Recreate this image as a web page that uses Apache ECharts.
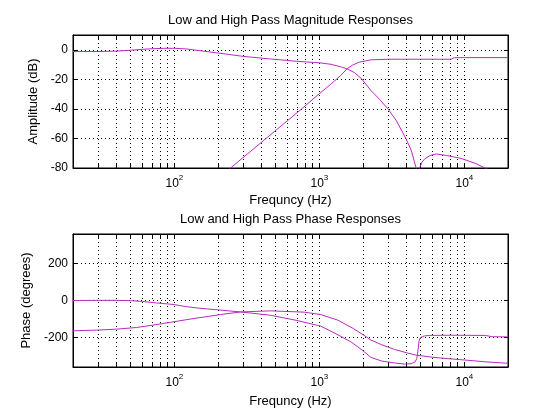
<!DOCTYPE html>
<html>
<head>
<meta charset="utf-8">
<script src="https://cdn.jsdelivr.net/npm/echarts@6/dist/echarts.min.js"></script>
<style>
  html, body { margin: 0; padding: 0; background: #fff; }
  #main { width: 560px; height: 420px; }
</style>
</head>
<body>
<div id="main"></div>
<script>
// frequency grid (Hz) and labels
var gridFreqs = [20, 30, 40, 50, 60, 70, 80, 90, 100, 200, 300, 400, 500, 600, 700, 800, 900,
    1000, 2000, 3000, 4000, 5000, 6000, 7000, 8000, 9000, 10000, 20000];
var decadeFreqs = [100, 1000, 10000];
var ampTicks = [-80, -60, -40, -20, 0];
var phaseTicks = [-200, 0, 200];

// low pass magnitude (dB)
var lpMagFreq = [20, 30, 40, 50, 60, 70, 85, 100, 120, 150, 200, 300, 460, 700, 1000, 1200, 1400, 1550,
    1750, 1950, 2270, 2600, 2970, 3400, 3960, 4300, 4650, 4780, 4910, 5100, 5310, 5800, 6400, 7500,
    9500, 12000, 14200, 20000];
var lpMagDb = [-1.2, -1.2, -0.9, -0.3, 0.3, 0.7, 1.0, 1.0, 0.6, -0.6, -2.2, -4.5, -6.2, -7.8, -8.8, -9.8, -11.5, -12.9,
    -15.5, -19.5, -27.6, -33.5, -40, -48, -60.3, -68, -80, -105, -80, -76, -74, -71.5, -70.5, -71.5,
    -73.5, -77, -80.5, -86];

// high pass magnitude (dB)
var hpMagFreq = [200, 244, 766, 997, 1200, 1400, 1550, 1700, 1880, 2270, 3000, 5000, 8100,
    8500, 10000, 20000];
var hpMagDb = [-87, -80, -39.5, -29.8, -23.3, -17.5, -12.9, -10.3, -8.4, -6.8, -6.4, -6.4, -6.4,
    -5.4, -5.3, -5.3];

// low pass phase (degrees)
var lpPhFreq = [20, 30, 40, 50, 60, 75, 100, 120, 150, 208, 286, 461, 700, 1023, 1300, 1652, 2000, 2270,
    2700, 3300, 3860, 4300, 4550, 4700, 4800, 4880, 5000, 5300, 5750, 8000, 14000, 15500, 20000];
var lpPhDeg = [0, 1, 1, -1, -5, -13, -22, -33, -42, -52, -62, -80, -108, -139, -180, -224, -272, -308,
    -328, -338, -344, -342, -334, -315, -265, -215, -200, -192, -189, -188, -189, -196, -197];

// high pass phase (degrees)
var hpPhFreq = [20, 30, 40, 55, 70, 94, 130, 208, 286, 461, 785, 1023, 1337, 1700, 2000, 2270, 2700, 3300,
    4000, 4660, 6000, 8000, 10000, 14000, 20000];
var hpPhDeg = [-164, -160, -155, -146, -134, -118, -100, -76, -62, -56, -63, -76, -106, -150, -185, -214, -240, -265,
    -283, -296, -307, -316, -322, -332, -340];

function pairs(xs, ys) {
    return xs.map(function (x, i) { return [x, ys[i]]; });
}

var FONT = 'Liberation Sans, Arial, sans-serif';
var LINE = '#b82cc0';

function powLabel(v) {
    var e = Math.round(Math.log10(v));
    return '{b|10}{s|' + e + '}';
}

function xAxisFor(gridIndex, pos, name, gap) {
    var bottom = pos === 'bottom';
    return {
        type: 'log',
        logBase: 10,
        gridIndex: gridIndex,
        position: pos,
        min: 20,
        max: 20000,
        name: name,
        nameLocation: 'middle',
        nameGap: gap,
        nameTextStyle: { color: '#000', fontFamily: FONT, fontSize: 13 },
        axisLine: { show: true, onZero: false, lineStyle: { color: '#000', width: 1 } },
        axisTick: { show: true, inside: true, length: 4, customValues: gridFreqs, lineStyle: { color: '#000' } },
        axisLabel: {
            show: bottom,
            customValues: decadeFreqs,
            margin: 6,
            formatter: powLabel,
            rich: {
                b: { fontSize: 12, fontFamily: FONT, color: '#000', verticalAlign: 'bottom' },
                s: { fontSize: 8, fontFamily: FONT, color: '#000', padding: [0, 0, 8, 0], verticalAlign: 'bottom' }
            }
        },
        splitLine: {
            show: bottom,
            lineStyle: { color: '#000', width: 1, type: [1, 3] }
        }
    };
}

function yAxisFor(gridIndex, pos, min, max, ticks, name, gap) {
    var left = pos === 'left';
    return {
        type: 'value',
        gridIndex: gridIndex,
        position: pos,
        min: min,
        max: max,
        name: name,
        nameLocation: 'middle',
        nameGap: gap,
        nameRotate: 90,
        nameTextStyle: { color: '#000', fontFamily: FONT, fontSize: 13 },
        axisLine: { show: true, onZero: false, lineStyle: { color: '#000', width: 1 } },
        axisTick: { show: true, inside: true, length: 4, customValues: ticks, lineStyle: { color: '#000' } },
        axisLabel: {
            show: left,
            customValues: ticks,
            margin: 5,
            color: '#000',
            fontFamily: FONT,
            fontSize: 12
        },
        splitLine: {
            show: left,
            lineStyle: { color: '#000', width: 1, type: [1, 3] }
        }
    };
}

function curve(xi, yi, data) {
    return {
        type: 'line',
        xAxisIndex: xi,
        yAxisIndex: yi,
        data: data,
        showSymbol: false,
        symbol: 'none',
        clip: true,
        smooth: false,
        lineStyle: { color: LINE, width: 1 },
        animation: false
    };
}

var myChart = echarts.init(document.getElementById('main'));
var option = {
    backgroundColor: '#fff',
    animation: false,
    grid: [
        { left: 73, top: 35, width: 435, height: 133, show: true, borderColor: '#000', borderWidth: 1, backgroundColor: '#fff' },
        { left: 73, top: 234, width: 435, height: 133, show: true, borderColor: '#000', borderWidth: 1, backgroundColor: '#fff' }
    ],
    xAxis: [
        xAxisFor(0, 'bottom', 'Frequncy (Hz)', 26),
        xAxisFor(0, 'top', 'Low and High Pass Magnitude Responses', 8),
        xAxisFor(1, 'bottom', 'Frequncy (Hz)', 28),
        xAxisFor(1, 'top', 'Low and High Pass Phase Responses', 8)
    ],
    yAxis: [
        yAxisFor(0, 'left', -80, 10, ampTicks, 'Amplitude (dB)', 30),
        yAxisFor(0, 'right', -80, 10, ampTicks, '', 0),
        yAxisFor(1, 'left', -360, 360, phaseTicks, 'Phase (degrees)', 36),
        yAxisFor(1, 'right', -360, 360, phaseTicks, '', 0)
    ],
    series: [
        curve(0, 0, pairs(lpMagFreq, lpMagDb)),
        curve(0, 0, pairs(hpMagFreq, hpMagDb)),
        curve(2, 2, pairs(lpPhFreq, lpPhDeg)),
        curve(2, 2, pairs(hpPhFreq, hpPhDeg))
    ]
};
myChart.setOption(option);
</script>
</body>
</html>
